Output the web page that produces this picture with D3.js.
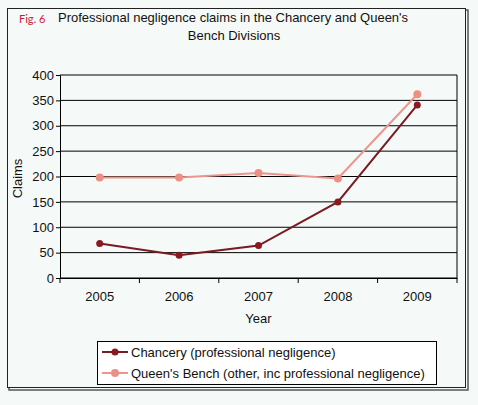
<!DOCTYPE html>
<html>
<head>
<meta charset="utf-8">
<script src="https://cdn.jsdelivr.net/npm/d3@7"></script>
<style>
  body { margin: 0; background: #f5faf8; }
  text { font-family: "Liberation Sans", Arial, sans-serif; }
</style>
</head>
<body>
<div id="wrapper"></div>
<script>
const years = ["2005", "2006", "2007", "2008", "2009"];
const chancery = [68, 45, 64, 150, 341];
const queensBench = [198, 198, 207, 196, 362];
const yTicks = [0, 50, 100, 150, 200, 250, 300, 350, 400];
const seriesNames = ["Chancery (professional negligence)", "Queen's Bench (other, inc professional negligence)"];

function drawChart() {
  const dimensions = {
    width: 478,
    height: 405,
    margin: { top: 75, right: 21, bottom: 127, left: 60 },
  };
  dimensions.boundedWidth = dimensions.width - dimensions.margin.left - dimensions.margin.right;
  dimensions.boundedHeight = dimensions.height - dimensions.margin.top - dimensions.margin.bottom;

  const svg = d3.select("#wrapper")
    .append("svg")
    .attr("width", dimensions.width)
    .attr("height", dimensions.height);

  // outer frame with shadow
  svg.append("rect")
    .attr("x", 9).attr("y", 10).attr("width", 459).attr("height", 380)
    .attr("fill", "none").attr("stroke", "#555").attr("stroke-width", 1.5);
  svg.append("rect")
    .attr("x", 7.5).attr("y", 8.5).attr("width", 458).attr("height", 379)
    .attr("fill", "#f5faf8").attr("stroke", "#222").attr("stroke-width", 1);

  // title
  svg.append("text")
    .attr("x", 19).attr("y", 23)
    .attr("fill", "#c8203c")
    .attr("font-size", "11px")
    .style("font-family", "Lato, 'Open Sans', sans-serif")
    .text("Fig. 6");
  svg.append("text")
    .attr("x", 58).attr("y", 22)
    .attr("font-size", "13px")
    .attr("fill", "#111")
    .text("Professional negligence claims in the Chancery and Queen's");
  svg.append("text")
    .attr("x", 234).attr("y", 40)
    .attr("font-size", "13px")
    .attr("fill", "#111")
    .attr("text-anchor", "middle")
    .text("Bench Divisions");

  const bounds = svg.append("g")
    .attr("transform", `translate(${dimensions.margin.left},${dimensions.margin.top})`);

  const xScale = d3.scaleBand()
    .domain(years)
    .range([0, dimensions.boundedWidth]);

  const yScale = d3.scaleLinear()
    .domain([0, 400])
    .range([dimensions.boundedHeight, 0]);

  // gridlines
  bounds.append("g")
    .selectAll("line")
    .data(yTicks)
    .enter()
    .append("line")
    .attr("x1", 0)
    .attr("x2", dimensions.boundedWidth)
    .attr("y1", d => yScale(d))
    .attr("y2", d => yScale(d))
    .attr("stroke", "#000")
    .attr("stroke-width", 1);

  bounds.append("line")
    .attr("x1", dimensions.boundedWidth).attr("x2", dimensions.boundedWidth)
    .attr("y1", 0).attr("y2", dimensions.boundedHeight)
    .attr("stroke", "#000");

  // axes
  const yAxisGen = d3.axisLeft(yScale).tickValues(yTicks).tickSize(4).tickPadding(2);
  const yAxis = bounds.append("g").call(yAxisGen);
  yAxis.select(".domain").attr("stroke", "#000");
  yAxis.selectAll("text").attr("font-size", "13px").attr("fill", "#111").style("font-family", "'Liberation Sans', Arial, sans-serif");

  const xAxisGen = d3.axisBottom(xScale).tickSize(0).tickPadding(14);
  const xAxis = bounds.append("g")
    .attr("transform", `translate(0,${dimensions.boundedHeight})`)
    .call(xAxisGen);
  xAxis.select(".domain").attr("stroke", "#000");
  xAxis.selectAll("text").attr("font-size", "13px").attr("fill", "#111").style("font-family", "'Liberation Sans', Arial, sans-serif");

  // x tick marks at band boundaries
  const bandEdges = years.map(d => xScale(d)).concat([dimensions.boundedWidth]);
  bounds.append("g")
    .selectAll("line")
    .data(bandEdges)
    .enter()
    .append("line")
    .attr("x1", d => d).attr("x2", d => d)
    .attr("y1", dimensions.boundedHeight)
    .attr("y2", dimensions.boundedHeight + 5)
    .attr("stroke", "#000");

  // axis titles
  svg.append("text")
    .attr("transform", `translate(22,${dimensions.margin.top + dimensions.boundedHeight / 2 + 2}) rotate(-90)`)
    .attr("text-anchor", "middle")
    .attr("font-size", "13px")
    .attr("fill", "#111")
    .text("Claims");
  svg.append("text")
    .attr("x", dimensions.margin.left + dimensions.boundedWidth / 2)
    .attr("y", 323)
    .attr("text-anchor", "middle")
    .attr("font-size", "13px")
    .attr("fill", "#111")
    .text("Year");

  // series
  const series = [
    { name: seriesNames[0], values: chancery, line: "#7a1a22", dot: "#8a1a20", r: 3.5 },
    { name: seriesNames[1], values: queensBench, line: "#eb958c", dot: "#ec9086", r: 4 },
  ];

  const lineGen = d3.line()
    .x((d, i) => xScale(years[i]) + xScale.bandwidth() / 2)
    .y(d => yScale(d));

  series.forEach(s => {
    bounds.append("path")
      .datum(s.values)
      .attr("d", lineGen)
      .attr("fill", "none")
      .attr("stroke", s.line)
      .attr("stroke-width", 2);
    bounds.append("g")
      .selectAll("circle")
      .data(s.values)
      .enter()
      .append("circle")
      .attr("cx", (d, i) => xScale(years[i]) + xScale.bandwidth() / 2)
      .attr("cy", d => yScale(d))
      .attr("r", s.r)
      .attr("fill", s.dot);
  });

  // legend
  const legend = svg.append("g").attr("transform", "translate(97,341)");
  legend.append("rect")
    .attr("x", 0.5).attr("y", 0.5).attr("width", 339).attr("height", 43)
    .attr("fill", "#fff").attr("stroke", "#000");
  series.forEach((s, i) => {
    const row = legend.append("g").attr("transform", `translate(0,${11 + i * 21})`);
    row.append("line")
      .attr("x1", 5).attr("x2", 31).attr("y1", 0).attr("y2", 0)
      .attr("stroke", s.line).attr("stroke-width", 2);
    row.append("circle")
      .attr("cx", 18).attr("cy", 0).attr("r", s.r).attr("fill", s.dot);
    row.append("text")
      .attr("x", 34).attr("y", 5)
      .attr("font-size", "13px")
      .attr("fill", "#111")
      .text(s.name);
  });
}
drawChart();
</script>
</body>
</html>
